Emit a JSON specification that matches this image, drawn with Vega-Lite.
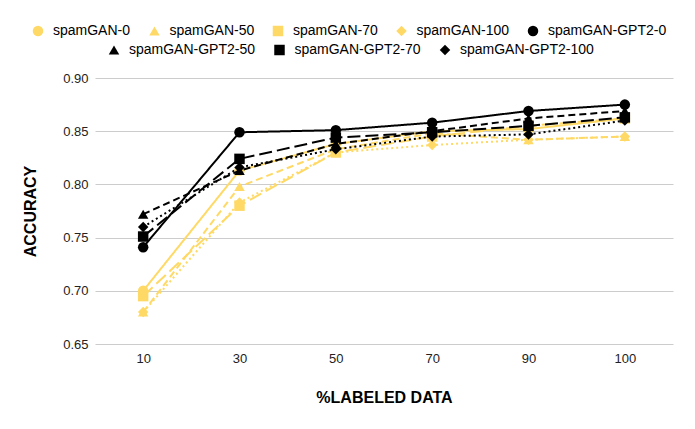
{
  "$schema": "https://vega.github.io/schema/vega-lite/v6.json",
  "width": 578,
  "height": 266,
  "autosize": "none",
  "padding": {"left": 95, "top": 78, "right": 22, "bottom": 85},
  "background": "white",
  "data": {
    "values": [
      {"series": "spamGAN-0", "labeled": 10, "accuracy": 0.700},
      {"series": "spamGAN-0", "labeled": 30, "accuracy": 0.813},
      {"series": "spamGAN-0", "labeled": 50, "accuracy": 0.838},
      {"series": "spamGAN-0", "labeled": 70, "accuracy": 0.850},
      {"series": "spamGAN-0", "labeled": 90, "accuracy": 0.852},
      {"series": "spamGAN-0", "labeled": 100, "accuracy": 0.862},
      {"series": "spamGAN-50", "labeled": 10, "accuracy": 0.680},
      {"series": "spamGAN-50", "labeled": 30, "accuracy": 0.798},
      {"series": "spamGAN-50", "labeled": 50, "accuracy": 0.833},
      {"series": "spamGAN-50", "labeled": 70, "accuracy": 0.848},
      {"series": "spamGAN-50", "labeled": 90, "accuracy": 0.842},
      {"series": "spamGAN-50", "labeled": 100, "accuracy": 0.845},
      {"series": "spamGAN-70", "labeled": 10, "accuracy": 0.695},
      {"series": "spamGAN-70", "labeled": 30, "accuracy": 0.780},
      {"series": "spamGAN-70", "labeled": 50, "accuracy": 0.830},
      {"series": "spamGAN-70", "labeled": 70, "accuracy": 0.845},
      {"series": "spamGAN-70", "labeled": 90, "accuracy": 0.855},
      {"series": "spamGAN-70", "labeled": 100, "accuracy": 0.862},
      {"series": "spamGAN-100", "labeled": 10, "accuracy": 0.680},
      {"series": "spamGAN-100", "labeled": 30, "accuracy": 0.783},
      {"series": "spamGAN-100", "labeled": 50, "accuracy": 0.830},
      {"series": "spamGAN-100", "labeled": 70, "accuracy": 0.837},
      {"series": "spamGAN-100", "labeled": 90, "accuracy": 0.842},
      {"series": "spamGAN-100", "labeled": 100, "accuracy": 0.845},
      {"series": "spamGAN-GPT2-0", "labeled": 10, "accuracy": 0.741},
      {"series": "spamGAN-GPT2-0", "labeled": 30, "accuracy": 0.849},
      {"series": "spamGAN-GPT2-0", "labeled": 50, "accuracy": 0.851},
      {"series": "spamGAN-GPT2-0", "labeled": 70, "accuracy": 0.858},
      {"series": "spamGAN-GPT2-0", "labeled": 90, "accuracy": 0.869},
      {"series": "spamGAN-GPT2-0", "labeled": 100, "accuracy": 0.875},
      {"series": "spamGAN-GPT2-50", "labeled": 10, "accuracy": 0.772},
      {"series": "spamGAN-GPT2-50", "labeled": 30, "accuracy": 0.813},
      {"series": "spamGAN-GPT2-50", "labeled": 50, "accuracy": 0.838},
      {"series": "spamGAN-GPT2-50", "labeled": 70, "accuracy": 0.850},
      {"series": "spamGAN-GPT2-50", "labeled": 90, "accuracy": 0.862},
      {"series": "spamGAN-GPT2-50", "labeled": 100, "accuracy": 0.869},
      {"series": "spamGAN-GPT2-70", "labeled": 10, "accuracy": 0.751},
      {"series": "spamGAN-GPT2-70", "labeled": 30, "accuracy": 0.824},
      {"series": "spamGAN-GPT2-70", "labeled": 50, "accuracy": 0.844},
      {"series": "spamGAN-GPT2-70", "labeled": 70, "accuracy": 0.849},
      {"series": "spamGAN-GPT2-70", "labeled": 90, "accuracy": 0.855},
      {"series": "spamGAN-GPT2-70", "labeled": 100, "accuracy": 0.863},
      {"series": "spamGAN-GPT2-100", "labeled": 10, "accuracy": 0.760},
      {"series": "spamGAN-GPT2-100", "labeled": 30, "accuracy": 0.816},
      {"series": "spamGAN-GPT2-100", "labeled": 50, "accuracy": 0.833},
      {"series": "spamGAN-GPT2-100", "labeled": 70, "accuracy": 0.845},
      {"series": "spamGAN-GPT2-100", "labeled": 90, "accuracy": 0.847},
      {"series": "spamGAN-GPT2-100", "labeled": 100, "accuracy": 0.860}
    ]
  },
  "encoding": {
    "x": {
      "field": "labeled",
      "type": "ordinal",
      "scale": {"type": "point", "padding": 0.5},
      "axis": {"title": "%LABELED DATA", "labelAngle": 0, "labelPadding": 8, "titlePadding": 24}
    },
    "y": {
      "field": "accuracy",
      "type": "quantitative",
      "scale": {"domain": [0.65, 0.9], "zero": false},
      "axis": {"title": "ACCURACY", "format": ".2f", "values": [0.65, 0.7, 0.75, 0.8, 0.85, 0.9], "grid": true, "labelPadding": 7, "titlePadding": 24}
    }
  },
  "layer": [
    {
      "transform": [{"filter": {"field": "series", "oneOf": ["spamGAN-0", "spamGAN-50", "spamGAN-70", "spamGAN-100", "spamGAN-GPT2-0"]}}],
      "encoding": {
        "color": {
          "field": "series",
          "type": "nominal",
          "scale": {
            "domain": ["spamGAN-0", "spamGAN-50", "spamGAN-70", "spamGAN-100", "spamGAN-GPT2-0"],
            "range": ["#FFD966", "#FFD966", "#FFD966", "#FFD966", "#000000"]
          },
          "legend": {"orient": "none", "legendX": -64, "legendY": -54, "direction": "horizontal", "columns": 5, "title": null}
        }
      },
      "layer": [
        {
          "mark": {"type": "line", "strokeWidth": 2},
          "encoding": {
            "strokeDash": {
              "field": "series",
              "type": "nominal",
              "scale": {
                "domain": ["spamGAN-0", "spamGAN-50", "spamGAN-70", "spamGAN-100", "spamGAN-GPT2-0"],
                "range": [[1, 0], [7, 4], [13, 5], [2, 3], [1, 0]]
              },
              "legend": null
            }
          }
        },
        {
          "mark": {"type": "point", "filled": true, "opacity": 1, "size": 110},
          "encoding": {
            "shape": {
              "field": "series",
              "type": "nominal",
              "scale": {
                "domain": ["spamGAN-0", "spamGAN-50", "spamGAN-70", "spamGAN-100", "spamGAN-GPT2-0"],
                "range": ["circle", "triangle-up", "square", "diamond", "circle"]
              },
              "legend": {"orient": "none", "legendX": -64, "legendY": -54, "direction": "horizontal", "columns": 5, "title": null}
            }
          }
        }
      ]
    },
    {
      "transform": [{"filter": {"field": "series", "oneOf": ["spamGAN-GPT2-50", "spamGAN-GPT2-70", "spamGAN-GPT2-100"]}}],
      "encoding": {
        "color": {
          "field": "series",
          "type": "nominal",
          "scale": {
            "domain": ["spamGAN-GPT2-50", "spamGAN-GPT2-70", "spamGAN-GPT2-100"],
            "range": ["#000000", "#000000", "#000000"]
          },
          "legend": {"orient": "none", "legendX": 12, "legendY": -35, "direction": "horizontal", "columns": 3, "title": null}
        }
      },
      "layer": [
        {
          "mark": {"type": "line", "strokeWidth": 2},
          "encoding": {
            "strokeDash": {
              "field": "series",
              "type": "nominal",
              "scale": {
                "domain": ["spamGAN-GPT2-50", "spamGAN-GPT2-70", "spamGAN-GPT2-100"],
                "range": [[7, 4], [13, 5], [2, 3]]
              },
              "legend": null
            }
          }
        },
        {
          "mark": {"type": "point", "filled": true, "opacity": 1, "size": 110},
          "encoding": {
            "shape": {
              "field": "series",
              "type": "nominal",
              "scale": {
                "domain": ["spamGAN-GPT2-50", "spamGAN-GPT2-70", "spamGAN-GPT2-100"],
                "range": ["triangle-up", "square", "diamond"]
              },
              "legend": {"orient": "none", "legendX": 12, "legendY": -35, "direction": "horizontal", "columns": 3, "title": null}
            }
          }
        }
      ]
    }
  ],
  "resolve": {"scale": {"color": "independent", "shape": "independent", "strokeDash": "independent"}},
  "config": {
    "font": "Liberation Sans",
    "view": {"stroke": null},
    "axis": {
      "domain": false,
      "ticks": false,
      "grid": false,
      "labelFont": "Liberation Sans",
      "labelFontSize": 13,
      "labelColor": "#222222",
      "titleFont": "Liberation Sans",
      "titleFontSize": 16,
      "titleFontWeight": "bold",
      "titleColor": "#000000",
      "gridColor": "#cccccc",
      "gridWidth": 1
    },
    "legend": {
      "labelFont": "Liberation Sans",
      "labelFontSize": 14,
      "labelColor": "#000000",
      "labelLimit": 300,
      "symbolSize": 110,
      "symbolStrokeWidth": 0,
      "columnPadding": 16.5,
      "padding": 0,
      "labelOffset": 8
    }
  }
}
